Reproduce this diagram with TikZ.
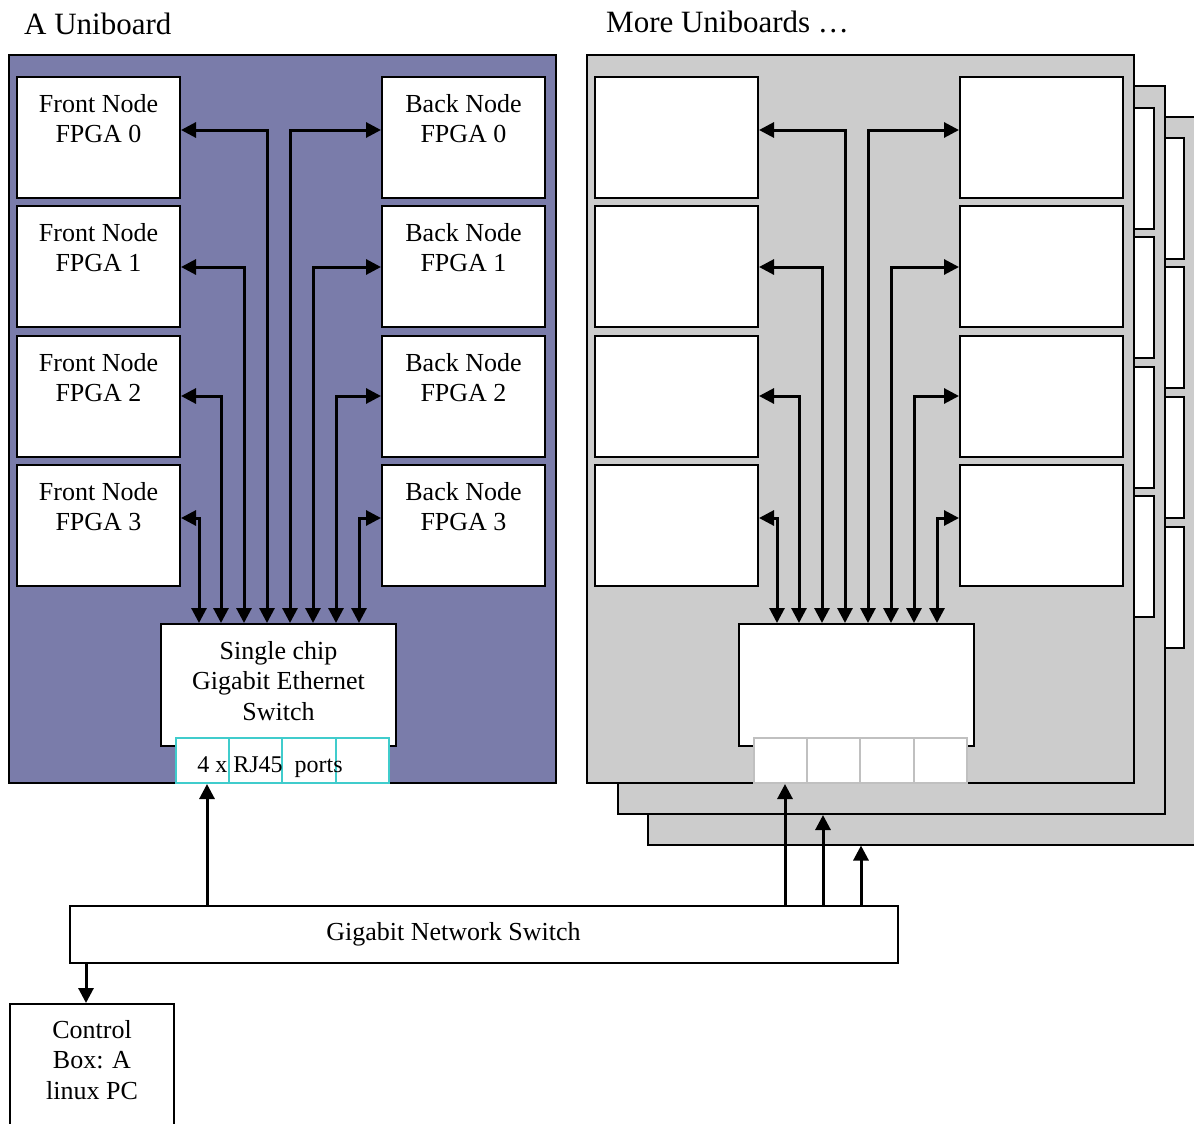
\documentclass[tikz,border=0pt]{standalone}
\usepackage{fontspec}
\setmainfont{Liberation Serif}
\usetikzlibrary{arrows.meta}
\definecolor{uniblue}{RGB}{122,124,170}
\definecolor{boardgray}{RGB}{204,204,204}
\definecolor{portcyan}{RGB}{64,204,204}
\definecolor{portgray}{RGB}{192,192,192}

\begin{document}
\begin{tikzpicture}[x=1pt,y=-1pt,font=\fontsize{26}{30.5}\selectfont]
  \tikzset{
    board/.style={
      draw=black,
      line width=2pt,
      minimum width=547pt,
      minimum height=728pt,
      inner sep=0pt
    },
    fpga/.style={
      draw=black,
      fill=white,
      line width=2pt,
      minimum width=163pt,
      minimum height=121pt,
      inner sep=0pt
    },
    boxtext/.style={
      anchor=north,
      align=center,
      inner sep=0pt,
      yshift=-18pt
    },
    gbe/.style={
      draw=black,
      fill=white,
      line width=2pt,
      minimum width=235pt,
      minimum height=122pt,
      inner sep=0pt
    },
    port/.style={
      fill=white,
      line width=2pt,
      minimum width=53.25pt,
      minimum height=45pt,
      inner sep=0pt
    },
    link/.style={
      line width=3pt,
      {Triangle[length=15pt,width=15pt]}-{Triangle[length=15pt,width=15pt]}
    },
    uplink/.style={
      line width=3pt,
      -{Triangle[length=15pt,width=15pt]}
    },
    title/.style={
      anchor=west,
      inner sep=0pt,
      font=\fontsize{31}{36}\selectfont
    }
  }
  \useasboundingbox (0,0) rectangle (1194,1124);

  \node[title] (T1) at (24,24) {A Uniboard};
  \node[title] (T2) at (606,22) {More Uniboards …};

  % the uniboard in front
  \node[board, fill=uniblue] (UB) at (282.5,419) {};

  \node[fpga, label={[boxtext]north:Front Node\\FPGA 0}] (F0) at (98.5,137.5) {};
  \node[fpga, label={[boxtext]north:Front Node\\FPGA 1}] (F1) at (98.5,266.5) {};
  \node[fpga, label={[boxtext]north:Front Node\\FPGA 2}] (F2) at (98.5,396.5) {};
  \node[fpga, label={[boxtext]north:Front Node\\FPGA 3}] (F3) at (98.5,525.5) {};
  \node[fpga, label={[boxtext]north:Back Node\\FPGA 0}] (B0) at (463.5,137.5) {};
  \node[fpga, label={[boxtext]north:Back Node\\FPGA 1}] (B1) at (463.5,266.5) {};
  \node[fpga, label={[boxtext]north:Back Node\\FPGA 2}] (B2) at (463.5,396.5) {};
  \node[fpga, label={[boxtext]north:Back Node\\FPGA 3}] (B3) at (463.5,525.5) {};

  \node[gbe, label={[boxtext]north:Single chip\\Gigabit Ethernet\\Switch}] (SW) at (278.5,685) {};
  \node[port, draw=portcyan] (P1) at (202.6,760.5) {};
  \node[port, draw=portcyan] (P2) at (255.9,760.5) {};
  \node[port, draw=portcyan] (P3) at (309.1,760.5) {};
  \node[port, draw=portcyan] (P4) at (362.4,760.5) {};
  \node[anchor=base, inner sep=0pt, font=\fontsize{24}{28}\selectfont] (PT) at (270,772) {4 x RJ45\ \ ports};

  \draw[link] (F0.east |- 0,130) -| ([xshift=-11.5pt]SW.north);
  \draw[link] (F1.east |- 0,267) -| ([xshift=-34.5pt]SW.north);
  \draw[link] (F2.east |- 0,396) -| ([xshift=-57.5pt]SW.north);
  \draw[link] (F3.east |- 0,518) -| ([xshift=-79.5pt]SW.north);
  \draw[link] (B0.west |- 0,130) -| ([xshift=11.5pt]SW.north);
  \draw[link] (B1.west |- 0,267) -| ([xshift=34.5pt]SW.north);
  \draw[link] (B2.west |- 0,396) -| ([xshift=57.5pt]SW.north);
  \draw[link] (B3.west |- 0,518) -| ([xshift=80.5pt]SW.north);

  % the stack of more uniboards
  \node[board, fill=boardgray] (MU3) at (921.5,480.5) {};
  \node[fpga] (M3B0) at (1102.5,198.5) {};
  \node[fpga] (M3B1) at (1102.5,327.5) {};
  \node[fpga] (M3B2) at (1102.5,457.5) {};
  \node[fpga] (M3B3) at (1102.5,587) {};

  \node[board, fill=boardgray] (MU2) at (891.5,450) {};
  \node[fpga] (M2B0) at (1072.5,168.5) {};
  \node[fpga] (M2B1) at (1072.5,297.5) {};
  \node[fpga] (M2B2) at (1072.5,427.5) {};
  \node[fpga] (M2B3) at (1072.5,556.5) {};

  \node[board, fill=boardgray] (MU1) at (860.5,419) {};
  \node[fpga] (RF0) at (676.5,137.5) {};
  \node[fpga] (RF1) at (676.5,266.5) {};
  \node[fpga] (RF2) at (676.5,396.5) {};
  \node[fpga] (RF3) at (676.5,525.5) {};
  \node[fpga] (RB0) at (1041.5,137.5) {};
  \node[fpga] (RB1) at (1041.5,266.5) {};
  \node[fpga] (RB2) at (1041.5,396.5) {};
  \node[fpga] (RB3) at (1041.5,525.5) {};

  \node[gbe] (RSW) at (856.5,685) {};
  \node[port, draw=portgray] (RP1) at (780.6,760.5) {};
  \node[port, draw=portgray] (RP2) at (833.9,760.5) {};
  \node[port, draw=portgray] (RP3) at (887.1,760.5) {};
  \node[port, draw=portgray] (RP4) at (940.4,760.5) {};

  \draw[link] (RF0.east |- 0,130) -| ([xshift=-11.5pt]RSW.north);
  \draw[link] (RF1.east |- 0,267) -| ([xshift=-34.5pt]RSW.north);
  \draw[link] (RF2.east |- 0,396) -| ([xshift=-57.5pt]RSW.north);
  \draw[link] (RF3.east |- 0,518) -| ([xshift=-79.5pt]RSW.north);
  \draw[link] (RB0.west |- 0,130) -| ([xshift=11.5pt]RSW.north);
  \draw[link] (RB1.west |- 0,267) -| ([xshift=34.5pt]RSW.north);
  \draw[link] (RB2.west |- 0,396) -| ([xshift=57.5pt]RSW.north);
  \draw[link] (RB3.west |- 0,518) -| ([xshift=80.5pt]RSW.north);

  % network and control pc
  \node[draw=black, fill=white, line width=2pt, minimum width=828pt, minimum height=57pt,
    inner sep=0pt, label={[xshift=-30.5pt]center:Gigabit Network Switch}] (NS) at (484,934.5) {};
  \node[fpga, minimum width=164pt, minimum height=140pt,
    label={[boxtext, yshift=1pt]north:Control\\Box: A\\linux PC}] (CB) at (92,1074) {};

  \draw[uplink] (207,0 |- NS.north) -- (207,0 |- P1.south);
  \draw[uplink] (785,0 |- NS.north) -- (785,0 |- RP1.south);
  \draw[uplink] (823,0 |- NS.north) -- (823,0 |- MU2.south);
  \draw[uplink] (861,0 |- NS.north) -- (861,0 |- MU3.south);
  \draw[uplink] (86,0 |- NS.south) -- (86,0 |- CB.north);
\end{tikzpicture}
\end{document}
